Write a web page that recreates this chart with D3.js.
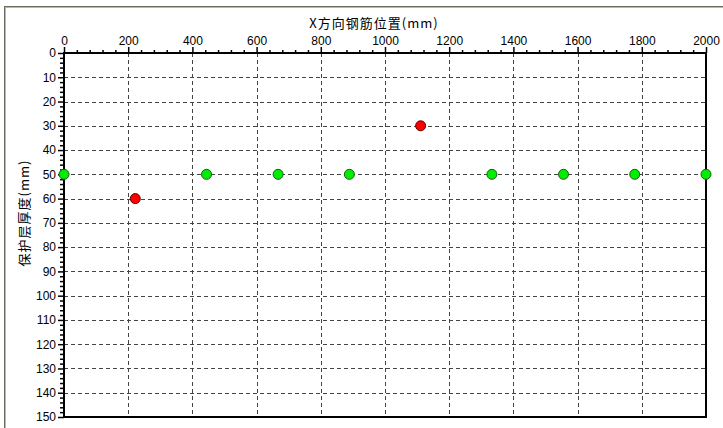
<!DOCTYPE html>
<html>
<head>
<meta charset="utf-8">
<script src="https://cdn.jsdelivr.net/npm/d3@7"></script>
<style>
  body { margin: 0; background: #fff; }
  svg { display: block; }
</style>
</head>
<body>
<svg id="chart" width="723" height="428"></svg>
<script>
// rebar positions along X (mm) and cover depth (mm)
const positions = [0, 222, 444, 667, 889, 1111, 1333, 1556, 1778, 2000]
const depths = [50, 60, 50, 50, 50, 30, 50, 50, 50, 50]
const flagged = [false, true, false, false, false, true, false, false, false, false]

const xTicks = [0, 200, 400, 600, 800, 1000, 1200, 1400, 1600, 1800, 2000]
const yTicks = [0, 10, 20, 30, 40, 50, 60, 70, 80, 90, 100, 110, 120, 130, 140, 150]

const xTitle = 'X方向钢筋位置(mm)'
const yTitle = '保护层厚度(mm)'

const width = 723
const height = 428
const margin = { top: 53, right: 17, bottom: 11, left: 64 }
const font = '"Liberation Sans", "Noto Sans CJK SC", sans-serif'

const svg = d3.select('#chart')

// sunken frame
svg.append('rect')
  .attr('x', 4.5).attr('y', 6.5)
  .attr('width', width).attr('height', height)
  .attr('fill', '#fff')
  .attr('stroke', '#6b6b60')
  .attr('stroke-width', 1)
svg.append('rect')
  .attr('x', 5.5).attr('y', 7.5)
  .attr('width', width).attr('height', height)
  .attr('fill', 'none')
  .attr('stroke', '#b8b8b0')
  .attr('stroke-width', 1)

const x = d3.scaleLinear()
  .domain([0, 2000])
  .range([margin.left, width - margin.right])

const y = d3.scaleLinear()
  .domain([0, 150])
  .range([margin.top, height - margin.bottom])

const g = svg.append('g')

// dashed grid
g.append('g')
  .selectAll('line')
  .data(xTicks.slice(1, -1))
  .join('line')
  .attr('x1', d => Math.round(x(d)) + 0.5)
  .attr('x2', d => Math.round(x(d)) + 0.5)
  .attr('y1', y(0))
  .attr('y2', y(150))
  .attr('stroke', '#444')
  .attr('stroke-dasharray', '4,3')

g.append('g')
  .selectAll('line')
  .data(yTicks.slice(1, -1))
  .join('line')
  .attr('x1', x(0))
  .attr('x2', x(2000))
  .attr('y1', d => Math.round(y(d)) + 0.5)
  .attr('y2', d => Math.round(y(d)) + 0.5)
  .attr('stroke', '#444')
  .attr('stroke-dasharray', '4,3')

// plot border
g.append('rect')
  .attr('x', x(0))
  .attr('y', y(0))
  .attr('width', x(2000) - x(0))
  .attr('height', y(150) - y(0))
  .attr('fill', 'none')
  .attr('stroke', '#000')
  .attr('stroke-width', 2)

// top axis
const xAxis = d3.axisTop(x)
  .tickValues(xTicks)
  .tickSize(6)
  .tickPadding(2)
  .tickFormat(d3.format('d'))

const xMinor = d3.axisTop(x)
  .tickValues(d3.range(0, 2001, 40).filter(d => d % 200 !== 0))
  .tickSize(3)
  .tickFormat('')

g.append('g')
  .attr('transform', `translate(0,${y(0)})`)
  .call(xMinor)
  .call(s => s.select('.domain').remove())
  .call(s => s.selectAll('line').attr('stroke-width', 1.5))

g.append('g')
  .attr('transform', `translate(0,${y(0)})`)
  .call(xAxis)
  .call(s => s.select('.domain').remove())
  .call(s => s.selectAll('line').attr('stroke-width', 1.5))
  .call(s => s.selectAll('text')
    .attr('font-family', font)
    .attr('font-size', 12)
    .attr('fill', '#000'))

// left axis
const yAxis = d3.axisLeft(y)
  .tickValues(yTicks)
  .tickSize(6)
  .tickPadding(2)
  .tickFormat(d3.format('d'))

const yMinor = d3.axisLeft(y)
  .tickValues(d3.range(0, 151, 2).filter(d => d % 10 !== 0))
  .tickSize(4)
  .tickFormat('')

g.append('g')
  .attr('transform', `translate(${x(0)},0)`)
  .call(yMinor)
  .call(s => s.select('.domain').remove())
  .call(s => s.selectAll('line').attr('stroke-width', 1.5))

g.append('g')
  .attr('transform', `translate(${x(0)},0)`)
  .call(yAxis)
  .call(s => s.select('.domain').remove())
  .call(s => s.selectAll('line').attr('stroke-width', 1.5))
  .call(s => s.selectAll('text')
    .attr('font-family', font)
    .attr('font-size', 12)
    .attr('fill', '#000'))

// titles
svg.append('text')
  .attr('x', 374)
  .attr('y', 28)
  .attr('text-anchor', 'middle')
  .attr('font-family', '"Noto Sans CJK SC", sans-serif')
  .attr('font-size', 13)
  .attr('letter-spacing', 1)
  .text(xTitle)

svg.append('text')
  .attr('transform', `translate(29,213) rotate(-90)`)
  .attr('text-anchor', 'middle')
  .attr('font-family', '"Noto Sans CJK SC", sans-serif')
  .attr('font-size', 13)
  .attr('letter-spacing', 1)
  .text(yTitle)

// rebar points
g.append('g')
  .selectAll('circle')
  .data(positions.map((p, i) => ({ p, d: depths[i], bad: flagged[i] })))
  .join('circle')
  .attr('cx', d => x(d.p))
  .attr('cy', d => y(d.d))
  .attr('r', 5)
  .attr('fill', d => (d.bad ? '#ff0000' : '#00ee00'))
  .attr('stroke', d => (d.bad ? '#600000' : '#1a5a1a'))
  .attr('stroke-width', 1)
</script>
</body>
</html>
